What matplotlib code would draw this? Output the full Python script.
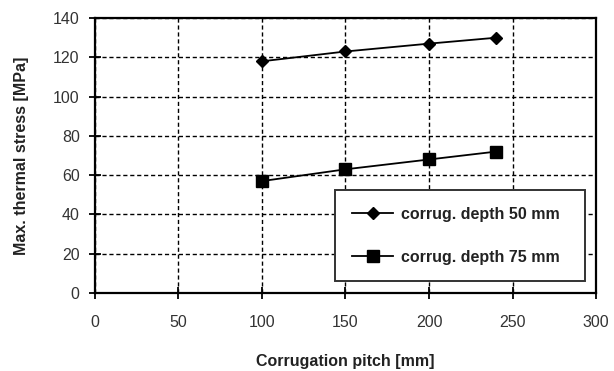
import matplotlib
matplotlib.use("Agg")
import matplotlib.pyplot as plt

plt.rcParams['font.family'] = ['Liberation Sans', 'DejaVu Sans']

pitch = [100, 150, 200, 240]
depth_50 = [118, 123, 127, 130]
depth_75 = [57, 63, 68, 72]

fig = plt.figure(figsize=(6.14, 3.71), dpi=100)
ax = fig.add_axes([0.1547, 0.2102, 0.816, 0.741])

ax.plot(pitch, depth_50, color='black', lw=1.3, marker='D', ms=6.5,
        label='corrug. depth 50 mm')
ax.plot(pitch, depth_75, color='black', lw=1.3, marker='s', ms=9,
        label='corrug. depth 75 mm')

ax.set_xlim(0, 300)
ax.set_ylim(0, 140)
ax.set_xticks(range(0, 301, 50))
ax.set_yticks(range(0, 141, 20))
ax.grid(True, color='black', linestyle=(0, (3, 2)), linewidth=1.0)
ax.tick_params(direction='inout', length=8, width=1.3, labelsize=11.5,
               colors='black', labelcolor='#333333')
ax.tick_params(axis='x', pad=12)
ax.tick_params(axis='y', pad=7)
for s in ax.spines.values():
    s.set_linewidth(1.6)

ax.set_xlabel('Corrugation pitch [mm]', fontsize=11.5, fontweight='bold',
              color='#222222', labelpad=17)
ax.set_ylabel('Max. thermal stress [MPa]', fontsize=11.5, fontweight='bold',
              color='#222222', labelpad=17)

leg = ax.legend(loc='upper left', bbox_to_anchor=(0.479, 0.055, 0.499, 0.32),
                mode='expand', borderaxespad=0, frameon=True, fancybox=False,
                edgecolor='#333333', framealpha=1, borderpad=1.05,
                labelspacing=1.75, handlelength=2.6, handletextpad=0.5,
                prop={'weight': 'bold', 'size': 11.5})
leg.get_frame().set_linewidth(1.4)
for t in leg.get_texts():
    t.set_color('#222222')

fig.savefig('out.png', dpi=100)
